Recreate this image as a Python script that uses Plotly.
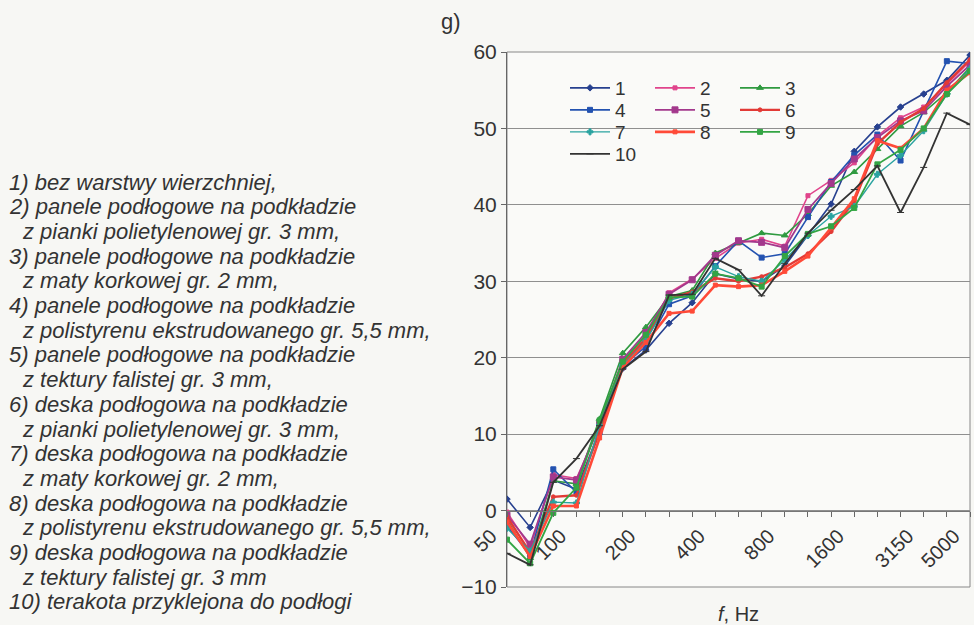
import plotly.graph_objects as go

freqs = ["50", "63", "80", "100", "125", "160", "200", "250", "315", "400", "500",
         "630", "800", "1000", "1250", "1600", "2000", "2500", "3150", "4000", "5000"]
tick_labels = ["50", "", "", "100", "", "", "200", "", "", "400", "", "", "800", "",
               "", "1600", "", "", "3150", "", "5000"]

s1 = [1.5, -2.2, 4.0, 2.8, 10.4, 18.6, 21.0, 24.5, 27.2, 31.0, 30.3, 30.0, 32.0, 36.0, 40.1, 47.0, 50.2, 52.8, 54.5, 56.3, 59.6]
s2 = [-0.2, -4.8, 4.7, 4.2, 11.0, 19.5, 22.8, 28.5, 30.3, 33.0, 35.0, 35.5, 34.6, 41.2, 43.2, 45.5, 49.0, 51.4, 52.8, 55.8, 58.8]
s3 = [-1.2, -6.2, 3.9, 3.5, 12.0, 20.6, 24.0, 28.0, 28.8, 33.7, 35.0, 36.3, 36.0, 38.8, 42.5, 44.3, 47.3, 50.3, 52.1, 54.7, 58.0]
s4 = [-2.0, -5.8, 5.4, 2.4, 10.2, 18.9, 21.5, 27.0, 28.1, 32.0, 35.3, 33.1, 33.6, 38.4, 43.0, 46.5, 49.2, 45.8, 52.3, 58.8, 58.5]
s5 = [-0.6, -4.4, 4.4, 4.0, 11.3, 19.8, 23.3, 28.3, 30.2, 33.4, 35.3, 35.1, 34.4, 39.4, 42.8, 46.0, 48.8, 51.0, 52.3, 55.5, 58.3]
s6 = [-0.8, -5.5, 1.8, 2.0, 10.5, 19.2, 22.5, 27.7, 28.6, 30.4, 30.0, 30.6, 31.8, 33.6, 36.5, 40.5, 48.0, 50.8, 52.6, 56.0, 59.0]
s7 = [-2.3, -5.3, 1.1, 1.0, 11.2, 19.0, 22.2, 27.5, 28.3, 31.9, 30.6, 30.0, 32.8, 36.0, 38.5, 39.8, 44.0, 46.5, 49.7, 54.5, 57.8]
s8 = [-1.5, -6.0, 0.6, 0.6, 9.5, 18.7, 22.0, 25.8, 26.1, 29.5, 29.3, 29.5, 31.3, 33.3, 37.0, 40.8, 48.4, 47.4, 50.0, 55.0, 57.3]
s9 = [-3.8, -6.9, -0.3, 3.0, 11.8, 19.5, 23.0, 27.9, 28.0, 31.0, 30.4, 29.3, 33.3, 36.2, 37.2, 39.6, 45.3, 47.2, 50.0, 54.5, 57.5]
s10 = [-5.6, -7.1, 3.7, 6.8, 11.1, 18.5, 20.8, 28.2, 28.3, 33.0, 31.5, 28.1, 32.3, 36.3, 39.3, 42.0, 45.1, 39.0, 44.9, 52.0, 50.5]

series_names = ["1", "2", "3", "4", "5", "6", "7", "8", "9", "10"]
series_values = [s1, s2, s3, s4, s5, s6, s7, s8, s9, s10]
colors = ["#27408f", "#e0448c", "#2f9a40", "#2352b0", "#a3388c",
          "#e23a36", "#2aa3a0", "#ff4a38", "#33a544", "#333333"]
symbols = ["diamond", "square", "triangle-up", "square", "square",
           "circle", "cross", "square", "square", "line-ew-open"]
msizes = [5, 4, 6, 5, 6, 4, 5, 4, 5, 5]
lwidths = [1.6, 1.6, 1.6, 1.6, 1.8, 2.4, 1.4, 2.6, 1.8, 1.8]
legend_of = ["legend", "legend", "legend", "legend2", "legend2", "legend2",
             "legend3", "legend3", "legend3", "legend4"]

fig = go.Figure()
for name, vals, c, sym, ms, lw, lg in zip(series_names, series_values, colors, symbols,
                                          msizes, lwidths, legend_of):
    fig.add_trace(go.Scatter(
        x=freqs, y=vals, name=name, mode="lines+markers",
        line=dict(color=c, width=lw),
        marker=dict(color=c, symbol=sym, size=ms, line=dict(color=c, width=1)),
        legend=lg,
    ))

font_main = "Liberation Sans, Arial, sans-serif"
txt_col = "#333333"

PL, PR, PT, PB = 507, 4, 52, 38
W, H = 974, 625
pw = W - PL - PR
ph = H - PT - PB


def px_x(x):
    return (x - PL) / pw


def px_y(y):
    return (H - PB - y) / ph


legend_common = dict(orientation="h", bgcolor="rgba(0,0,0,0)", borderwidth=0,
                     font=dict(family=font_main, size=19, color=txt_col),
                     entrywidth=30, entrywidthmode="pixels", itemwidth=40,
                     xanchor="left", yanchor="middle", traceorder="normal",
                     itemclick=False, itemdoubleclick=False)
lx = px_x(565)
fig.update_layout(
    legend=dict(x=lx, y=px_y(88), **legend_common),
    legend2=dict(x=lx, y=px_y(110), **legend_common),
    legend3=dict(x=lx, y=px_y(132), **legend_common),
    legend4=dict(x=lx, y=px_y(154), **legend_common),
)

fig.update_layout(
    width=W, height=H,
    margin=dict(l=PL, r=PR, t=PT, b=PB),
    paper_bgcolor="#f7f7f4",
    plot_bgcolor="#fafaf8",
    showlegend=True,
    xaxis=dict(
        type="category", range=[0, len(freqs) - 1],
        tickmode="array", tickvals=freqs, ticktext=tick_labels,
        tickangle=-45, ticks="outside", ticklen=5, tickcolor="#666",
        ticklabelshift=-16,
        showline=True, linecolor="#777", linewidth=1,
        showgrid=False, zeroline=False,
        anchor="free", position=10 / 70,
        tickfont=dict(family=font_main, size=20, color=txt_col),
    ),
    yaxis=dict(
        range=[-10, 60], dtick=10, tick0=0, domain=[0, 1],
        ticks="outside", ticklen=5, tickcolor="#666",
        showline=True, linecolor="#666", linewidth=1,
        showgrid=True, gridcolor="#8f8f8f", gridwidth=1,
        zeroline=False,
        tickfont=dict(family=font_main, size=21, color=txt_col),
    ),
)

fig.add_shape(type="rect", xref="paper", yref="paper", x0=0, x1=1, y0=0, y1=1,
              line=dict(color="#888888", width=1), layer="below")

fig.add_annotation(text="g)", xref="paper", yref="paper", x=px_x(439), y=px_y(22),
                   xanchor="left", yanchor="middle", showarrow=False,
                   font=dict(family=font_main, size=22, color=txt_col))
fig.add_annotation(text="<i>f</i>, Hz", xref="paper", yref="paper", x=0.5, y=px_y(614),
                   xanchor="center", yanchor="middle", showarrow=False,
                   font=dict(family=font_main, size=20, color=txt_col))

desc_lines = [
    "1) bez warstwy wierzchniej,",
    "2) panele podłogowe na podkładzie",
    "  z pianki polietylenowej gr. 3 mm,",
    "3) panele podłogowe na podkładzie",
    "  z maty korkowej gr. 2 mm,",
    "4) panele podłogowe na podkładzie",
    "  z polistyrenu ekstrudowanego gr. 5,5 mm,",
    "5) panele podłogowe na podkładzie",
    "  z tektury falistej gr. 3 mm,",
    "6) deska podłogowa na podkładzie",
    "  z pianki polietylenowej gr. 3 mm,",
    "7) deska podłogowa na podkładzie",
    "  z maty korkowej gr. 2 mm,",
    "8) deska podłogowa na podkładzie",
    "  z polistyrenu ekstrudowanego gr. 5,5 mm,",
    "9) deska podłogowa na podkładzie",
    "  z tektury falistej gr. 3 mm",
    "10) terakota przyklejona do podłogi",
]
for i, line in enumerate(desc_lines):
    indent = line.startswith("  ")
    fig.add_annotation(text="<i>" + line.strip() + "</i>", xref="paper", yref="paper",
                       x=px_x(20 if indent else 7), y=px_y(182 + 24.7 * i),
                       xanchor="left", yanchor="middle", showarrow=False,
                       font=dict(family=font_main, size=22, color=txt_col))

fig.write_html("out.html")
